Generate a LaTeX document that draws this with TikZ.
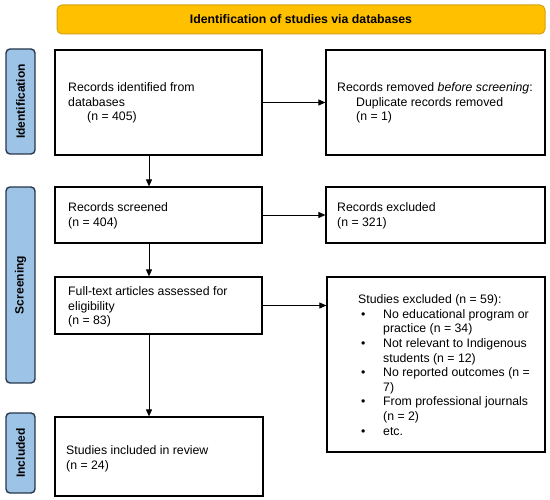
\documentclass[tikz,border=0pt]{standalone}
\usepackage{fontspec}
\setmainfont{Liberation Sans}
\usetikzlibrary{arrows.meta,calc}
\definecolor{bannerfill}{RGB}{255,192,0}
\definecolor{bannerline}{RGB}{214,160,20}
\definecolor{tabfill}{RGB}{157,195,230}
\definecolor{tabline}{RGB}{40,55,75}
\newcommand{\bul}{\hspace*{3pt}\makebox[22pt][l]{•}}
\newcommand{\hng}{\hspace*{25pt}}
\begin{document}
\begin{tikzpicture}[x=1pt,y=-1pt,
  box/.style={draw=black, line width=1.2pt, fill=white, inner sep=0pt},
  txt/.style={inner sep=0pt, align=left, anchor=west, font=\fontsize{12.3}{14.6}\selectfont},
  tab/.style={draw=tabline, line width=1.4pt, fill=tabfill, rounded corners=4pt, rotate=90,
    minimum height=29pt, inner sep=0pt, font=\fontsize{12}{14}\selectfont\bfseries},
  arr/.style={-{Triangle[length=7pt,width=6pt]}, line width=0.9pt}]
\useasboundingbox (0,0) rectangle (550,500);
% banner
\node[draw=bannerline, line width=1pt, fill=bannerfill, rounded corners=5pt,
  minimum width=488pt, minimum height=29pt, inner sep=0pt,
  font=\fontsize{12.3}{14}\selectfont\bfseries] (banner) at (301,19.5)
  {Identification of studies via databases};
% side tabs
\node[tab, minimum width=105pt] (tabid) at (20.5,101.5) {Identification};
\node[tab, minimum width=196pt] (tabsc) at (20.5,285) {Screening};
\node[tab, minimum width=80pt] (tabin) at (20.5,453) {Included};
% boxes
\node[box, minimum width=207pt, minimum height=105pt] (b1) at (158.5,102.5) {};
\node[box, minimum width=219pt, minimum height=105pt] (b2) at (435.5,102.5) {};
\node[box, minimum width=207pt, minimum height=56pt] (b3) at (158.5,215) {};
\node[box, minimum width=219pt, minimum height=56pt] (b4) at (435.5,215) {};
\node[box, minimum width=207pt, minimum height=57pt] (b5) at (158.5,305.5) {};
\node[box, minimum width=218pt, minimum height=175pt] (b6) at (436,364.5) {};
\node[box, minimum width=208pt, minimum height=79pt] (b7) at (159,456.5) {};
% texts
\node[txt] (t1) at (68,103) {Records identified from\\databases\\\hspace*{19pt}(n = 405)};
\node[txt] (t2) at (337,103) {Records removed \textit{before screening}:\\\hspace*{19pt}Duplicate records removed\\\hspace*{19pt}(n = 1)};
\node[txt] (t3) at (68,216) {Records screened\\(n = 404)};
\node[txt] (t4) at (337,216) {Records excluded\\(n = 321)};
\node[txt] (t5) at (68,307) {Full-text articles assessed for\\eligibility\\(n = 83)};
\node[txt] (t6) at (358,365) {Studies excluded (n = 59):\\
\bul No educational program or\\\hng practice (n = 34)\\
\bul Not relevant to Indigenous\\\hng students (n = 12)\\
\bul No reported outcomes (n =\\\hng 7)\\
\bul From professional journals\\\hng (n = 2)\\
\bul etc.};
\node[txt] (t7) at (66,459) {Studies included in review\\(n = 24)};
% connectors
\coordinate (ax) at (149,0);
\draw[arr] (b1.east) -- (b2.west);
\draw[arr] (b3.east) -- (b4.west);
\draw[arr] (b5.east) -- (b5.east -| b6.west);
\draw[arr] (b1.south -| ax) -- (b3.north -| ax);
\draw[arr] (b3.south -| ax) -- (b5.north -| ax);
\draw[arr] (b5.south -| ax) -- (b7.north -| ax);
\end{tikzpicture}
\end{document}
